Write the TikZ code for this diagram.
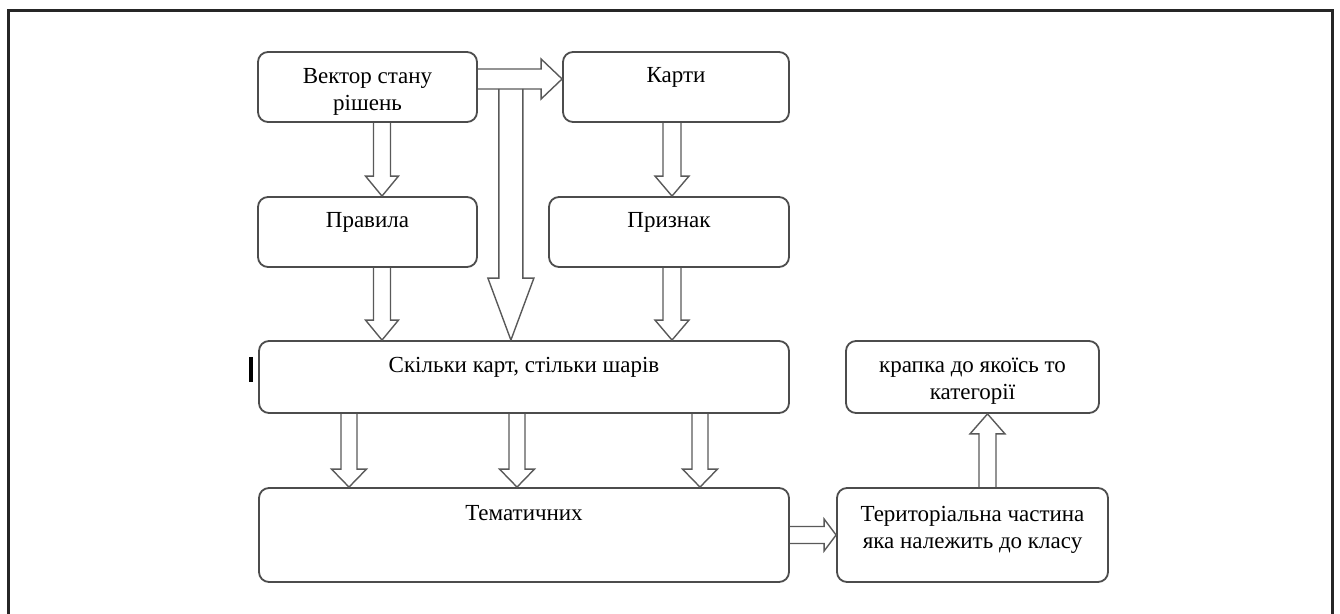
\documentclass[tikz,border=0pt]{standalone}
\usepackage{fontspec}
\setmainfont{Liberation Serif}
\usetikzlibrary{calc}

\begin{document}
\begin{tikzpicture}[x=0.5pt,y=-0.5pt,
   box/.style={draw=black!70,line width=0.9pt,rounded corners=5pt,align=center,
     inner sep=2pt,font=\fontsize{11.5}{13.5}\selectfont},
   blk/.style n args={3}{draw=black!65,line width=0.7pt,to path={
     (\tikztostart) coordinate (ts) (\tikztotarget) coordinate (tt)
     ($(tt)!#3!(ts)$) coordinate (tb)
     ($(ts)!#1!90:(tt)$) -- ($(tb)!#1!-90:(ts)$) -- ($(tb)!#2!-90:(ts)$) -- (tt)
     -- ($(tb)!#2!90:(ts)$) -- ($(tb)!#1!90:(ts)$) -- ($(ts)!#1!-90:(tt)$)}}]

 \useasboundingbox (0,0) rectangle (1340,614);
 \draw[line width=1.5pt,black!85] (8,11) rectangle (1332,650);

 %upper boxes
 \node[box,minimum width=109.5pt,minimum height=35pt] (vec)  at (367.5,87) {\rule{0pt}{12.6pt}Вектор стану\\рішень};
 \node[box,minimum width=109.5pt,minimum height=35pt] (rules) at (367.5,232) {Правила\\[-1.5pt]\mbox{}};
 \node[box,minimum width=113pt,minimum height=35pt] (maps) at (676,87) {Карти\\[-1.5pt]\mbox{}};
 \node[box,minimum width=120pt,minimum height=35pt] (feat) at (669,232) {Признак\\[-1.5pt]\mbox{}};

 %wide boxes
 \node[box,minimum width=265pt,minimum height=36pt] (layers) at (524,377) {Скільки карт, стільки шарів\\[-1.5pt]\mbox{}};
 \node[box,minimum width=265pt,minimum height=47pt] (them) at (524,535) {Тематичних\\[8.5pt]\mbox{}};

 %right column
 \node[box,minimum width=126.5pt,minimum height=36pt] (point) at (972.5,377) {\rule{0pt}{11.3pt}крапка до якоїсь то\\категорії};
 \node[box,minimum width=135.5pt,minimum height=47pt] (terr) at (972.5,535) {Територіальна частина\\яка належить до класу\\[-6pt]\mbox{}};

 \draw[line width=1.75pt] (251,357) -- (251,382);

 %block arrows
 \draw[blk={4.25pt}{8.25pt}{10pt}] ($(vec.south)+(14.5,0)$) to ($(rules.north)+(14.5,0)$);
 \draw[blk={4.25pt}{8.25pt}{10pt}] ($(rules.south)+(14.5,0)$) to ($(layers.north)+(-142,0)$);
 \draw[blk={4.5pt}{8.5pt}{10pt}] ($(maps.south)+(-4,0)$) to ($(feat.north)+(3,0)$);
 \draw[blk={4.5pt}{8.5pt}{10pt}] ($(feat.south)+(3,0)$) to ($(layers.north)+(148,0)$);

 \draw[blk={5pt}{10pt}{10.5pt}] ($(vec.east)+(0,-8)$) to ($(maps.west)+(0,-8)$);
 \coordinate (fork) at ($(vec.east)+(33,2)$);
 \draw[blk={6pt}{11.5pt}{31pt}] (fork) to (layers.north -| fork);

 \foreach \dx in {-175,-7,176}
   \draw[blk={4pt}{8.75pt}{9pt}] ($(layers.south)+(\dx,0)$) to ($(them.north)+(\dx,0)$);

 \draw[blk={4.25pt}{8pt}{6pt}] (them.east) to (terr.west);
 \draw[blk={4.25pt}{8.75pt}{10pt}] ($(terr.north)+(15,0)$) to ($(point.south)+(15,0)$);

\end{tikzpicture}
\end{document}
